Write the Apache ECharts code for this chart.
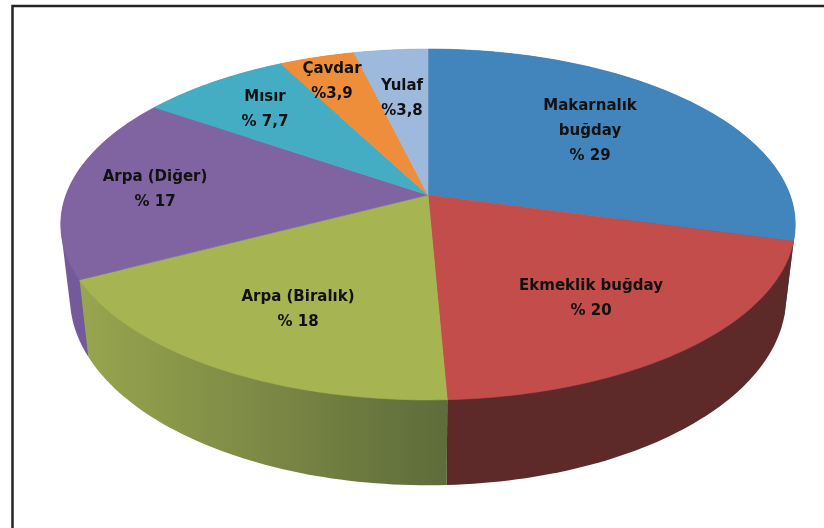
<!DOCTYPE html>
<html><head><meta charset="utf-8">
<style>html,body{margin:0;padding:0;background:#fff}#c{width:824px;height:528px}</style>
<script src="https://cdn.jsdelivr.net/npm/echarts@6/dist/echarts.min.js"></script>
</head><body><div id="c"></div>
<script>
const names = ['Makarnalık\nbuğday','Ekmeklik buğday','Arpa (Biralık)','Arpa (Diğer)','Mısır','Çavdar','Yulaf'];
const values = [29,20,18,17,7.7,3.9,3.8];
const valueLabels = ['% 29','% 20','% 18','% 17','% 7,7','%3,9','%3,8'];

const topColors = ['#4285bd','#c24d4a','#a6b551','#8064a1','#44adc4','#ef8e3a','#9dbadc'];
const wallStops = [
  [[0,'#2c5a85'],[1,'#2c5a85']],
  [[0,'#6a2e2c'],[1,'#5e2a29']],
  [[0,'#98a650'],[0.2,'#8c9a4a'],[0.5,'#7c8945'],[0.8,'#6a773e'],[1,'#5d6d3b']],
  [[0,'#745a9a'],[1,'#745a9a']],
  [[0,'#2f7a8c'],[1,'#2f7a8c']],
  [[0,'#a86428'],[1,'#a86428']],
  [[0,'#6d829b'],[1,'#6d829b']]
];
const labelCenters = [[590,131],[591,299],[298,310],[155,190],[265,110],[332,82],[402,99]];
const view = {cx:428, cy:195, a:362, b:170.5, k:0.168, depth:71, shrink:0.975, lineHeight:25};

const total = values.reduce((s,v)=>s+v,0);
let run = 0;
const starts = values.map(v=>{const s=run; run+=v; return s;});
function project(share, below){
  const t = share/total*2*Math.PI, u = Math.sin(t), v = -Math.cos(t), d = 1-view.k*v;
  if(!below) return [view.cx+view.a*u/d, view.cy+view.b*v/d];
  return [view.cx+view.shrink*view.a*u/d, view.cy+(view.b*v+view.depth)/d];
}
function arc(from,to,below){
  const pts=[], n=Math.max(8,Math.ceil((to-from)*3));
  for(let i=0;i<=n;i++) pts.push(project(from+(to-from)*i/n,below));
  return pts;
}
function hull(points){
  const p=points.slice().sort((a,b)=>a[0]-b[0]||a[1]-b[1]);
  const cross=(o,a,b)=>(a[0]-o[0])*(b[1]-o[1])-(a[1]-o[1])*(b[0]-o[0]);
  const half=list=>{const h=[];for(const q of list){while(h.length>1&&cross(h[h.length-2],h[h.length-1],q)<=0)h.pop();h.push(q);}h.pop();return h;};
  return half(p).concat(half(p.slice().reverse()));
}
const chart = echarts.init(document.getElementById('c'),null,{renderer:'canvas'});
const seriesData = values.map((v,i)=>({name:names[i],value:[v,i]}));
chart.setOption({
  animation:false,
  backgroundColor:'#fff',
  graphic:[
    {type:'polyline',z:0,shape:{points:[[12.5,528],[12.5,6],[824,6]]},style:{stroke:'#242424',lineWidth:2.5,fill:null}}
  ],
  series:[
    {type:'custom',coordinateSystem:'none',z:2,silent:true,data:seriesData,encode:{value:0},
     renderItem(p,api){
       const i=api.value(1), s=starts[i], e=s+api.value(0);
       const pts=hull(arc(s,e,false).concat(arc(s,e,true)));
       const mid=project((s+e)/2,false);
       return {type:'polygon',z2:Math.round(mid[1]),shape:{points:pts},
         style:{fill:{type:'linear',global:true,x:80,y:0,x2:446,y2:0,
           colorStops:wallStops[i].map(c=>({offset:c[0],color:c[1]}))}}};
     }},
    {type:'custom',coordinateSystem:'none',z:3,silent:true,data:seriesData,encode:{value:0},
     renderItem(p,api){
       const i=api.value(1), s=starts[i], e=s+api.value(0);
       return {type:'polygon',shape:{points:[[view.cx,view.cy]].concat(arc(s,e,false))},
         style:{fill:topColors[i],stroke:topColors[i],lineWidth:0.6}};
     }},
    {type:'custom',coordinateSystem:'none',z:4,silent:true,data:seriesData,encode:{value:0},
     renderItem(p,api){
       const i=api.value(1);
       return {type:'text',x:labelCenters[i][0],y:labelCenters[i][1],
         style:{text:names[i]+'\n'+valueLabels[i],align:'center',verticalAlign:'middle',
           fontFamily:'"DejaVu Sans"',fontWeight:'bold',fontSize:15,lineHeight:view.lineHeight,fill:'#111'}};
     }}
  ]
});
</script></body></html>
